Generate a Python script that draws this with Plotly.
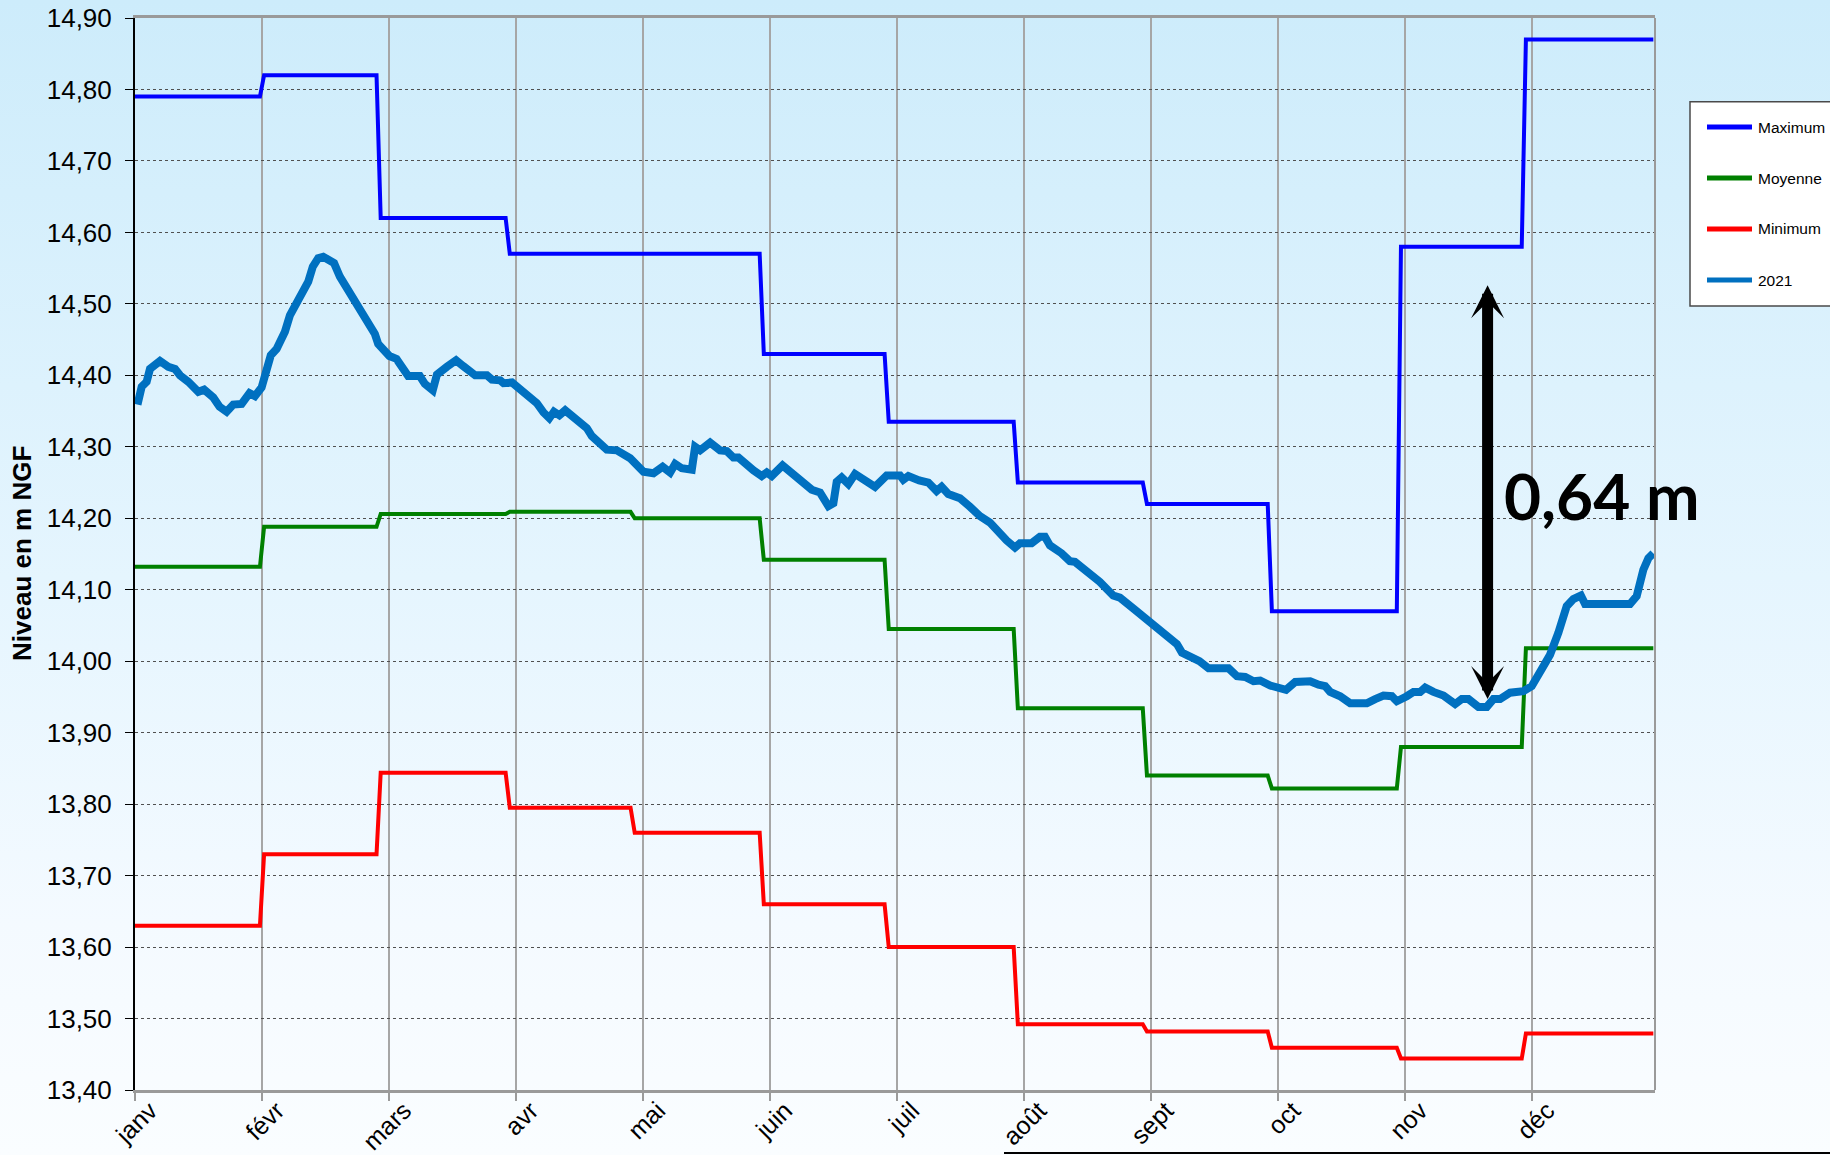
import base64
import plotly.graph_objects as go

# ---------------- data ----------------
month_labels = ["janv", "févr", "mars", "avr", "mai", "juin", "juil",
                "août", "sept", "oct", "nov", "déc"]
month_start_days = [0, 31, 59, 90, 120, 151, 181, 212, 243, 273, 304, 334]
last_day = 364.6

maximum = [14.79, 14.82, 14.62, 14.57, 14.57, 14.43, 14.335, 14.25, 14.22, 14.07, 14.58, 14.87]
moyenne = [14.132, 14.188, 14.206, 14.209, 14.200, 14.142, 14.045, 13.934, 13.840, 13.822, 13.880, 14.018]
minimum = [13.630, 13.730, 13.844, 13.795, 13.760, 13.660, 13.600, 13.492, 13.482, 13.459, 13.444, 13.479]

days_2021 = [0.6, 1.6, 2.8, 3.6, 6.0, 8.0, 9.6, 10.8, 12.8, 15.2, 16.6, 18.8, 20.3, 22.0, 23.6,
             25.6, 27.5, 28.8, 30.4, 31.6, 32.6, 34.0, 36.0, 37.2, 38.8, 40.4, 41.6, 42.7, 44.0,
             45.2, 46.7, 47.8, 49.2, 51.2, 52.7, 54.7, 57.6, 58.4, 59.6, 61.1, 62.8, 64.0, 65.6,
             68.4, 69.6, 71.5, 72.5, 74.9, 77.1, 78.8, 81.7, 84.5, 85.7, 87.7, 88.5, 90.5, 93.3,
             96.5, 98.1, 99.5, 100.6, 101.9, 103.3, 106.1, 108.5, 109.7, 113.3, 115.7, 117.3,
             118.9, 122.1, 124.5, 126.7, 128.5, 129.7, 131.3, 133.7, 134.5, 135.7, 138.1, 140.5,
             142.1, 143.7, 144.9, 148.5, 150.5, 151.7, 152.9, 155.5, 158.1, 162.5, 164.5, 166.5,
             167.7, 168.5, 169.7, 171.3, 172.9, 175.7, 177.7, 180.5, 183.7, 184.5, 185.7, 188.3,
             190.5, 192.5, 193.7, 195.3, 198.1, 200.5, 202.9, 205.3, 207.3, 209.3, 211.3, 212.5,
             215.3, 217.3, 218.5, 219.7, 222.5, 224.5, 225.7, 228.5, 231.7, 234.9, 236.5, 239.7,
             243.8, 247.0, 250.2, 251.4, 253.8, 255.6, 257.8, 262.6, 264.6, 266.6, 268.6, 270.2,
             272.6, 275.2, 276.4, 278.6, 282.2, 284.2, 285.8, 287.0, 289.4, 291.8, 295.8, 297.8,
             299.8, 301.8, 303.0, 305.4, 307.0, 308.6, 309.8, 311.8, 314.2, 317.0, 318.6, 320.2,
             322.6, 324.6, 326.2, 327.8, 330.2, 333.4, 335.4, 338.2, 339.8, 341.8, 343.8, 345.4,
             347.2, 348.2, 351.0, 359.0, 360.6, 362.2, 363.4, 364.6]
level_2021 = [14.359, 14.384, 14.391, 14.409, 14.420, 14.412, 14.409, 14.400, 14.391, 14.377, 14.380,
              14.369, 14.356, 14.349, 14.359, 14.360, 14.375, 14.371, 14.383, 14.407, 14.428, 14.437,
              14.461, 14.484, 14.500, 14.515, 14.531, 14.552, 14.564, 14.566, 14.560, 14.557, 14.538,
              14.518, 14.507, 14.486, 14.458, 14.444, 14.437, 14.427, 14.423, 14.414, 14.399, 14.399,
              14.388, 14.379, 14.401, 14.412, 14.421, 14.413, 14.400, 14.400, 14.394, 14.393, 14.389,
              14.390, 14.377, 14.361, 14.348, 14.340, 14.349, 14.344, 14.351, 14.337, 14.326, 14.315,
              14.296, 14.295, 14.288, 14.284, 14.265, 14.263, 14.272, 14.264, 14.276, 14.270, 14.268,
              14.300, 14.295, 14.306, 14.295, 14.294, 14.285, 14.285, 14.267, 14.259, 14.264, 14.259,
              14.274, 14.262, 14.240, 14.236, 14.217, 14.221, 14.251, 14.257, 14.248, 14.262, 14.251,
              14.244, 14.260, 14.260, 14.254, 14.259, 14.253, 14.250, 14.238, 14.244, 14.234, 14.228,
              14.216, 14.203, 14.194, 14.180, 14.169, 14.159, 14.165, 14.165, 14.174, 14.174, 14.162,
              14.151, 14.140, 14.139, 14.126, 14.111, 14.092, 14.089, 14.074, 14.055, 14.039, 14.024,
              14.012, 14.005, 14.000, 13.990, 13.990, 13.979, 13.978, 13.972, 13.973, 13.966, 13.960,
              13.960, 13.971, 13.972, 13.967, 13.965, 13.957, 13.951, 13.941, 13.941, 13.947, 13.952,
              13.951, 13.944, 13.951, 13.957, 13.957, 13.963, 13.957, 13.952, 13.940, 13.947, 13.947,
              13.936, 13.936, 13.947, 13.947, 13.956, 13.958, 13.965, 13.993, 14.009, 14.040, 14.077,
              14.087, 14.092, 14.080, 14.080, 14.080, 14.091, 14.128, 14.144, 14.151]

y_ticks = [13.40, 13.50, 13.60, 13.70, 13.80, 13.90, 14.00, 14.10, 14.20, 14.30, 14.40, 14.50,
           14.60, 14.70, 14.80, 14.90]

gap_label = "0,64 m"
gap_day = 324.8
gap_top = 14.526
gap_bottom = 13.945

# ---------------- helpers ----------------
def monthly_steps(values):
    xs, ys = [], []
    for i, start in enumerate(month_start_days):
        end = month_start_days[i + 1] - 1 if i + 1 < len(month_start_days) else last_day
        xs += [start, end]
        ys += [values[i], values[i]]
    return xs, ys

FONT = "Liberation Sans, Arial, sans-serif"
W, H = 1830, 1155
ML, MR, MT, MB = 135, 175, 18, 65
PW, PH = W - ML - MR, H - MT - MB

def px_x(px):
    return (px - ML) / PW

def px_y(py):
    return 1 - (py - MT) / PH

fig = go.Figure()
series = [("Maximum", maximum, "#0000ff"),
          ("Moyenne", moyenne, "#008000"),
          ("Minimum", minimum, "#ff0000")]
for name, vals, col in series:
    xs, ys = monthly_steps(vals)
    fig.add_trace(go.Scatter(x=xs, y=ys, mode="lines", name=name,
                             line=dict(color=col, width=4)))
fig.add_trace(go.Scatter(x=days_2021, y=level_2021, mode="lines", name="2021",
                         xaxis="x2", line=dict(color="#0070c0", width=8)))

tick_step = 30.5
label_shift = 3.6  # labels sit slightly right of their tick, as in the original
x_range = [0, 365]
fig.update_layout(
    xaxis=dict(range=x_range, tickmode="array",
               tickvals=[i * tick_step for i in range(len(month_labels))],
               showticklabels=False,
               showgrid=True, gridcolor="#a6a6a6", gridwidth=2,
               showline=True, linecolor="#9a9a9a", linewidth=3, mirror=True,
               ticks="outside", ticklen=8, tickcolor="#9a9a9a", tickwidth=2,
               zeroline=False),
    xaxis2=dict(range=x_range, overlaying="x", anchor="y", side="bottom", tickmode="array",
                tickvals=[i * tick_step + label_shift for i in range(len(month_labels))],
                ticktext=month_labels, tickangle=-45,
                tickfont=dict(family=FONT, size=25, color="#000"),
                ticklabelstandoff=-13, ticks="outside", ticklen=8,
                tickcolor="rgba(0,0,0,0)", showgrid=False, showline=False, zeroline=False),
)
fig.update_yaxes(range=[13.40, 14.90], tickmode="array", tickvals=y_ticks, tickformat=".2f",
                 tickfont=dict(family=FONT, size=26, color="#000"),
                 showgrid=True, gridcolor="#505050", gridwidth=1, griddash="dot",
                 showline=True, linecolor="#000", linewidth=2,
                 ticks="outside", ticklen=8, tickcolor="#000", tickwidth=1,
                 ticklabelstandoff=8, zeroline=False)

# background gradient (SVG data uri)
svg = ("<svg xmlns='http://www.w3.org/2000/svg' width='%d' height='%d' preserveAspectRatio='none'>"
       "<defs><linearGradient id='g' x1='0' y1='0' x2='0' y2='1'>"
       "<stop offset='0' stop-color='#cdecfb'/><stop offset='0.5' stop-color='#e5f5fe'/>"
       "<stop offset='0.8' stop-color='#f4faff'/><stop offset='1' stop-color='#fafdff'/>"
       "</linearGradient></defs><rect width='100%%' height='100%%' fill='url(#g)'/></svg>") % (W, H)
src = "data:image/svg+xml;base64," + base64.b64encode(svg.encode()).decode()
fig.add_layout_image(dict(source=src, xref="paper", yref="paper",
                          x=-ML / PW, y=1 + MT / PH, sizex=W / PW, sizey=H / PH,
                          xanchor="left", yanchor="top", sizing="stretch", layer="below"))

# right border of plot
fig.add_shape(type="line", xref="paper", yref="paper", x0=1, x1=1, y0=0, y1=1,
              line=dict(color="#9a9a9a", width=2))
# bottom decorative line
fig.add_shape(type="line", xref="paper", yref="paper",
              x0=px_x(1004), x1=px_x(W + 5), y0=px_y(1153), y1=px_y(1153),
              line=dict(color="#000", width=2))

# custom legend (box, swatches, labels)
fig.add_shape(type="rect", xref="paper", yref="paper",
              x0=px_x(1690), x1=px_x(W + 20), y0=px_y(306), y1=px_y(101.7),
              fillcolor="#ffffff", line=dict(color="#4a4a4a", width=1.5))
legend_items = [(n, c) for n, _, c in series] + [("2021", "#0070c0")]
for k, (name, col) in enumerate(legend_items):
    yy = px_y(127 + 51 * k)
    fig.add_shape(type="line", xref="paper", yref="paper",
                  x0=px_x(1707), x1=px_x(1752), y0=yy, y1=yy,
                  line=dict(color=col, width=5))
    fig.add_annotation(x=px_x(1756), y=yy, xref="paper", yref="paper", text=name,
                       showarrow=False, xanchor="left", yanchor="middle",
                       font=dict(family=FONT, size=15.5, color="#000"))

# double arrow + label
fig.add_annotation(x=gap_day, y=gap_top, ax=gap_day, ay=gap_bottom, xref="x", yref="y",
                   axref="x", ayref="y", text="", showarrow=True, arrowside="end+start",
                   arrowhead=3, startarrowhead=3, arrowsize=0.5, startarrowsize=0.5,
                   arrowwidth=11, arrowcolor="#000", standoff=0, startstandoff=0)
fig.add_annotation(x=352.3, y=14.232, xref="x", yref="y", text="<b>%s</b>" % gap_label,
                   showarrow=False, font=dict(family="Lato, sans-serif", size=64, color="#000"))

# y axis title
fig.add_annotation(x=0, y=0.5, xref="paper", yref="paper", xshift=-113,
                   xanchor="center", yanchor="middle",
                   text="<b>Niveau en m NGF</b>", textangle=-90, showarrow=False,
                   font=dict(family=FONT, size=26, color="#000"))

fig.update_layout(
    width=W, height=H, margin=dict(l=ML, r=MR, t=MT, b=MB, autoexpand=False),
    paper_bgcolor="#fafdff", plot_bgcolor="rgba(0,0,0,0)",
    separators=", ", showlegend=False,
    font=dict(family=FONT),
)

fig.write_html("out.html", config={"displayModeBar": False},
               post_script="document.body.style.margin='0';document.body.style.padding='0';"
                           "document.body.style.overflow='hidden';")
